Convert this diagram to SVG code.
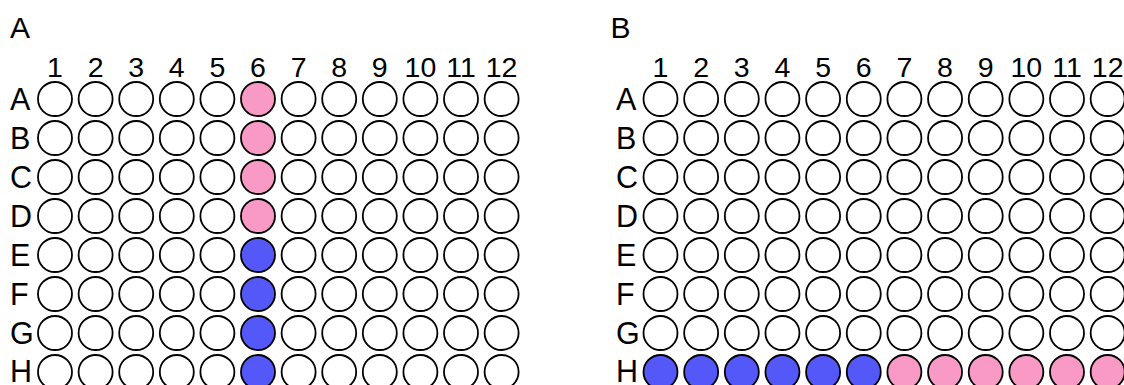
<svg xmlns="http://www.w3.org/2000/svg" width="1124" height="385" viewBox="0 0 1124 385">
<style>
text{font-family:"Liberation Sans",Arial,sans-serif;fill:#000}
.t{font-size:30px}
.n{font-size:28.5px;text-anchor:middle}
.r{font-size:30.5px}
circle{stroke:#000;stroke-width:1.8;fill:#fff}
.p{fill:#f899c6}
.b{fill:#5558f8}
</style>
<rect width="1124" height="385" fill="#fff"/>
<g id="plateA">
<text class="t" x="10" y="38">A</text>
<g id="plateA-cols">
<text class="n" x="55" y="77">1</text><text class="n" x="95.6" y="77">2</text><text class="n" x="136.2" y="77">3</text><text class="n" x="176.8" y="77">4</text><text class="n" x="217.4" y="77">5</text><text class="n" x="258" y="77">6</text><text class="n" x="298.6" y="77">7</text><text class="n" x="339.2" y="77">8</text><text class="n" x="379.8" y="77">9</text><text class="n" x="420.4" y="77">10</text><text class="n" x="461" y="77">11</text><text class="n" x="501.6" y="77">12</text>
</g>
<g id="plateA-rows">
<text class="r" x="10" y="110">A</text><text class="r" x="10" y="148.5">B</text><text class="r" x="10" y="187.5">C</text><text class="r" x="10" y="226.5">D</text><text class="r" x="10" y="265.5">E</text><text class="r" x="10" y="304.5">F</text><text class="r" x="10" y="343.5">G</text><text class="r" x="10" y="382">H</text>
</g>
<g id="plateA-wells">
<g id="a-rowA"><circle cx="55" cy="99" r="17"/><circle cx="95.6" cy="99" r="17"/><circle cx="136.2" cy="99" r="17"/><circle cx="176.8" cy="99" r="17"/><circle cx="217.4" cy="99" r="17"/><circle class="p" cx="258" cy="99" r="17"/><circle cx="298.6" cy="99" r="17"/><circle cx="339.2" cy="99" r="17"/><circle cx="379.8" cy="99" r="17"/><circle cx="420.4" cy="99" r="17"/><circle cx="461" cy="99" r="17"/><circle cx="501.6" cy="99" r="17"/></g>
<g id="a-rowB"><circle cx="55" cy="138" r="17"/><circle cx="95.6" cy="138" r="17"/><circle cx="136.2" cy="138" r="17"/><circle cx="176.8" cy="138" r="17"/><circle cx="217.4" cy="138" r="17"/><circle class="p" cx="258" cy="138" r="17"/><circle cx="298.6" cy="138" r="17"/><circle cx="339.2" cy="138" r="17"/><circle cx="379.8" cy="138" r="17"/><circle cx="420.4" cy="138" r="17"/><circle cx="461" cy="138" r="17"/><circle cx="501.6" cy="138" r="17"/></g>
<g id="a-rowC"><circle cx="55" cy="177" r="17"/><circle cx="95.6" cy="177" r="17"/><circle cx="136.2" cy="177" r="17"/><circle cx="176.8" cy="177" r="17"/><circle cx="217.4" cy="177" r="17"/><circle class="p" cx="258" cy="177" r="17"/><circle cx="298.6" cy="177" r="17"/><circle cx="339.2" cy="177" r="17"/><circle cx="379.8" cy="177" r="17"/><circle cx="420.4" cy="177" r="17"/><circle cx="461" cy="177" r="17"/><circle cx="501.6" cy="177" r="17"/></g>
<g id="a-rowD"><circle cx="55" cy="216" r="17"/><circle cx="95.6" cy="216" r="17"/><circle cx="136.2" cy="216" r="17"/><circle cx="176.8" cy="216" r="17"/><circle cx="217.4" cy="216" r="17"/><circle class="p" cx="258" cy="216" r="17"/><circle cx="298.6" cy="216" r="17"/><circle cx="339.2" cy="216" r="17"/><circle cx="379.8" cy="216" r="17"/><circle cx="420.4" cy="216" r="17"/><circle cx="461" cy="216" r="17"/><circle cx="501.6" cy="216" r="17"/></g>
<g id="a-rowE"><circle cx="55" cy="255" r="17"/><circle cx="95.6" cy="255" r="17"/><circle cx="136.2" cy="255" r="17"/><circle cx="176.8" cy="255" r="17"/><circle cx="217.4" cy="255" r="17"/><circle class="b" cx="258" cy="255" r="17"/><circle cx="298.6" cy="255" r="17"/><circle cx="339.2" cy="255" r="17"/><circle cx="379.8" cy="255" r="17"/><circle cx="420.4" cy="255" r="17"/><circle cx="461" cy="255" r="17"/><circle cx="501.6" cy="255" r="17"/></g>
<g id="a-rowF"><circle cx="55" cy="294" r="17"/><circle cx="95.6" cy="294" r="17"/><circle cx="136.2" cy="294" r="17"/><circle cx="176.8" cy="294" r="17"/><circle cx="217.4" cy="294" r="17"/><circle class="b" cx="258" cy="294" r="17"/><circle cx="298.6" cy="294" r="17"/><circle cx="339.2" cy="294" r="17"/><circle cx="379.8" cy="294" r="17"/><circle cx="420.4" cy="294" r="17"/><circle cx="461" cy="294" r="17"/><circle cx="501.6" cy="294" r="17"/></g>
<g id="a-rowG"><circle cx="55" cy="333" r="17"/><circle cx="95.6" cy="333" r="17"/><circle cx="136.2" cy="333" r="17"/><circle cx="176.8" cy="333" r="17"/><circle cx="217.4" cy="333" r="17"/><circle class="b" cx="258" cy="333" r="17"/><circle cx="298.6" cy="333" r="17"/><circle cx="339.2" cy="333" r="17"/><circle cx="379.8" cy="333" r="17"/><circle cx="420.4" cy="333" r="17"/><circle cx="461" cy="333" r="17"/><circle cx="501.6" cy="333" r="17"/></g>
<g id="a-rowH"><circle cx="55" cy="372" r="17"/><circle cx="95.6" cy="372" r="17"/><circle cx="136.2" cy="372" r="17"/><circle cx="176.8" cy="372" r="17"/><circle cx="217.4" cy="372" r="17"/><circle class="b" cx="258" cy="372" r="17"/><circle cx="298.6" cy="372" r="17"/><circle cx="339.2" cy="372" r="17"/><circle cx="379.8" cy="372" r="17"/><circle cx="420.4" cy="372" r="17"/><circle cx="461" cy="372" r="17"/><circle cx="501.6" cy="372" r="17"/></g>
</g>
</g>
<g id="plateB">
<text class="t" x="610.5" y="38">B</text>
<g id="plateB-cols">
<text class="n" x="660.5" y="77">1</text><text class="n" x="701.15" y="77">2</text><text class="n" x="741.8" y="77">3</text><text class="n" x="782.45" y="77">4</text><text class="n" x="823.1" y="77">5</text><text class="n" x="863.75" y="77">6</text><text class="n" x="904.4" y="77">7</text><text class="n" x="945.05" y="77">8</text><text class="n" x="985.7" y="77">9</text><text class="n" x="1026.35" y="77">10</text><text class="n" x="1067" y="77">11</text><text class="n" x="1107.65" y="77">12</text>
</g>
<g id="plateB-rows">
<text class="r" x="616" y="110">A</text><text class="r" x="616" y="148.5">B</text><text class="r" x="616" y="187.5">C</text><text class="r" x="616" y="226.5">D</text><text class="r" x="616" y="265.5">E</text><text class="r" x="616" y="304.5">F</text><text class="r" x="616" y="343.5">G</text><text class="r" x="616" y="382">H</text>
</g>
<g id="plateB-wells">
<g id="b-rowA"><circle cx="660.5" cy="99" r="17"/><circle cx="701.15" cy="99" r="17"/><circle cx="741.8" cy="99" r="17"/><circle cx="782.45" cy="99" r="17"/><circle cx="823.1" cy="99" r="17"/><circle cx="863.75" cy="99" r="17"/><circle cx="904.4" cy="99" r="17"/><circle cx="945.05" cy="99" r="17"/><circle cx="985.7" cy="99" r="17"/><circle cx="1026.35" cy="99" r="17"/><circle cx="1067" cy="99" r="17"/><circle cx="1107.65" cy="99" r="17"/></g>
<g id="b-rowB"><circle cx="660.5" cy="138" r="17"/><circle cx="701.15" cy="138" r="17"/><circle cx="741.8" cy="138" r="17"/><circle cx="782.45" cy="138" r="17"/><circle cx="823.1" cy="138" r="17"/><circle cx="863.75" cy="138" r="17"/><circle cx="904.4" cy="138" r="17"/><circle cx="945.05" cy="138" r="17"/><circle cx="985.7" cy="138" r="17"/><circle cx="1026.35" cy="138" r="17"/><circle cx="1067" cy="138" r="17"/><circle cx="1107.65" cy="138" r="17"/></g>
<g id="b-rowC"><circle cx="660.5" cy="177" r="17"/><circle cx="701.15" cy="177" r="17"/><circle cx="741.8" cy="177" r="17"/><circle cx="782.45" cy="177" r="17"/><circle cx="823.1" cy="177" r="17"/><circle cx="863.75" cy="177" r="17"/><circle cx="904.4" cy="177" r="17"/><circle cx="945.05" cy="177" r="17"/><circle cx="985.7" cy="177" r="17"/><circle cx="1026.35" cy="177" r="17"/><circle cx="1067" cy="177" r="17"/><circle cx="1107.65" cy="177" r="17"/></g>
<g id="b-rowD"><circle cx="660.5" cy="216" r="17"/><circle cx="701.15" cy="216" r="17"/><circle cx="741.8" cy="216" r="17"/><circle cx="782.45" cy="216" r="17"/><circle cx="823.1" cy="216" r="17"/><circle cx="863.75" cy="216" r="17"/><circle cx="904.4" cy="216" r="17"/><circle cx="945.05" cy="216" r="17"/><circle cx="985.7" cy="216" r="17"/><circle cx="1026.35" cy="216" r="17"/><circle cx="1067" cy="216" r="17"/><circle cx="1107.65" cy="216" r="17"/></g>
<g id="b-rowE"><circle cx="660.5" cy="255" r="17"/><circle cx="701.15" cy="255" r="17"/><circle cx="741.8" cy="255" r="17"/><circle cx="782.45" cy="255" r="17"/><circle cx="823.1" cy="255" r="17"/><circle cx="863.75" cy="255" r="17"/><circle cx="904.4" cy="255" r="17"/><circle cx="945.05" cy="255" r="17"/><circle cx="985.7" cy="255" r="17"/><circle cx="1026.35" cy="255" r="17"/><circle cx="1067" cy="255" r="17"/><circle cx="1107.65" cy="255" r="17"/></g>
<g id="b-rowF"><circle cx="660.5" cy="294" r="17"/><circle cx="701.15" cy="294" r="17"/><circle cx="741.8" cy="294" r="17"/><circle cx="782.45" cy="294" r="17"/><circle cx="823.1" cy="294" r="17"/><circle cx="863.75" cy="294" r="17"/><circle cx="904.4" cy="294" r="17"/><circle cx="945.05" cy="294" r="17"/><circle cx="985.7" cy="294" r="17"/><circle cx="1026.35" cy="294" r="17"/><circle cx="1067" cy="294" r="17"/><circle cx="1107.65" cy="294" r="17"/></g>
<g id="b-rowG"><circle cx="660.5" cy="333" r="17"/><circle cx="701.15" cy="333" r="17"/><circle cx="741.8" cy="333" r="17"/><circle cx="782.45" cy="333" r="17"/><circle cx="823.1" cy="333" r="17"/><circle cx="863.75" cy="333" r="17"/><circle cx="904.4" cy="333" r="17"/><circle cx="945.05" cy="333" r="17"/><circle cx="985.7" cy="333" r="17"/><circle cx="1026.35" cy="333" r="17"/><circle cx="1067" cy="333" r="17"/><circle cx="1107.65" cy="333" r="17"/></g>
<g id="b-rowH"><circle class="b" cx="660.5" cy="372" r="17"/><circle class="b" cx="701.15" cy="372" r="17"/><circle class="b" cx="741.8" cy="372" r="17"/><circle class="b" cx="782.45" cy="372" r="17"/><circle class="b" cx="823.1" cy="372" r="17"/><circle class="b" cx="863.75" cy="372" r="17"/><circle class="p" cx="904.4" cy="372" r="17"/><circle class="p" cx="945.05" cy="372" r="17"/><circle class="p" cx="985.7" cy="372" r="17"/><circle class="p" cx="1026.35" cy="372" r="17"/><circle class="p" cx="1067" cy="372" r="17"/><circle class="p" cx="1107.65" cy="372" r="17"/></g>
</g>
</g>
</svg>
